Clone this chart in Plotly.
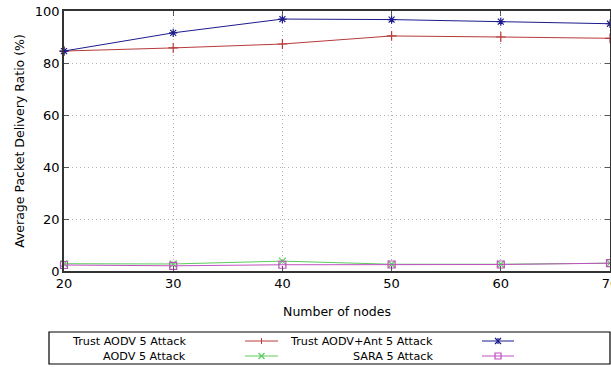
import plotly.graph_objects as go

nodes = [20, 30, 40, 50, 60, 70]
trust_aodv = [84.6, 85.8, 87.3, 90.4, 90.0, 89.5]
trust_aodv_ant = [84.6, 91.6, 96.9, 96.7, 95.9, 95.1]
aodv = [2.8, 2.7, 3.8, 2.6, 2.6, 3.0]
sara = [2.3, 2.0, 2.4, 2.5, 2.5, 3.0]

names = ["Trust AODV 5 Attack", "Trust AODV+Ant 5 Attack", "AODV 5 Attack", "SARA 5 Attack"]
colors = ["#b83a3a", "#1c1c8c", "#5ccc5c", "#c050c0"]
symbols = ["cross-thin-open", "asterisk-open", "x-thin-open", "square-open"]
series = [trust_aodv, trust_aodv_ant, aodv, sara]

W, H = 611, 367
L, R, T, B = 64, 610, 11, 271

fig = go.Figure()
for vals, c, s, n in zip(series, colors, symbols, names):
    fig.add_trace(go.Scatter(x=nodes, y=vals, mode="lines+markers", name=n,
                             line=dict(color=c, width=1),
                             marker=dict(symbol=s, size=7, color=c, line=dict(color=c, width=1.2)),
                             showlegend=False, cliponaxis=False))

def px(x):
    return (x - L) / (R - L)

def py(y):
    return (B - y) / (B - T)

shapes = []
annotations = []
# legend box
shapes.append(dict(type="rect", xref="paper", yref="paper", x0=px(49), x1=px(610), y0=py(364), y1=py(332),
                   line=dict(color="black", width=1.2), fillcolor="white", layer="above"))
pos = [(188, 341, 245, 278), (435, 341, 482, 514), (188, 356, 245, 278), (435, 356, 482, 514)]
for (tx, ty, lx0, lx1), c, s, n in zip(pos, colors, symbols, names):
    annotations.append(dict(x=px(tx), y=py(ty), xref="paper", yref="paper", text=n, showarrow=False,
                            xanchor="right", yanchor="middle", font=dict(size=11.2, color="black")))
    shapes.append(dict(type="line", xref="paper", yref="paper", x0=px(lx0), x1=px(lx1), y0=py(ty), y1=py(ty),
                       line=dict(color=c, width=1), layer="above"))
    cx = (lx0 + lx1) / 2
    r = 3
    if s.startswith("cross"):
        shapes.append(dict(type="line", xref="paper", yref="paper", x0=px(cx), x1=px(cx), y0=py(ty - r), y1=py(ty + r),
                           line=dict(color=c, width=1), layer="above"))
    elif s.startswith("x"):
        shapes.append(dict(type="line", xref="paper", yref="paper", x0=px(cx - r), x1=px(cx + r), y0=py(ty - r), y1=py(ty + r),
                           line=dict(color=c, width=1.2), layer="above"))
        shapes.append(dict(type="line", xref="paper", yref="paper", x0=px(cx - r), x1=px(cx + r), y0=py(ty + r), y1=py(ty - r),
                           line=dict(color=c, width=1.2), layer="above"))
    elif s.startswith("asterisk"):
        for a, b in [((-r, -r), (r, r)), ((-r, r), (r, -r)), ((0, -r), (0, r))]:
            shapes.append(dict(type="line", xref="paper", yref="paper", x0=px(cx + a[0]), x1=px(cx + b[0]),
                               y0=py(ty + a[1]), y1=py(ty + b[1]), line=dict(color=c, width=1.2), layer="above"))
    else:
        shapes.append(dict(type="rect", xref="paper", yref="paper", x0=px(cx - r), x1=px(cx + r), y0=py(ty + r), y1=py(ty - r),
                           line=dict(color=c, width=1.2), layer="above"))

axis_common = dict(showline=True, linecolor="#333333", linewidth=1.5, mirror="ticks", ticks="inside",
                   ticklen=5, tickcolor="#555555", showgrid=True, gridcolor="#b0b0b0", griddash="1px,3px",
                   gridwidth=1, zeroline=False, tickfont=dict(size=13, color="black"),
                   ticklabeloverflow="allow")

fig.update_layout(
    width=W, height=H,
    margin=dict(l=L, r=W - R, t=T, b=H - B, autoexpand=False),
    paper_bgcolor="white", plot_bgcolor="white",
    font=dict(family="DejaVu Sans", size=13, color="black"),
    xaxis=dict(range=[20, 70], tickvals=nodes,
               title=dict(text="Number of nodes", standoff=17, font=dict(size=12.5)), **axis_common),
    yaxis=dict(range=[0, 100], tickvals=[0, 20, 40, 60, 80, 100],
               title=dict(text="Average Packet Delivery Ratio (%)", standoff=7, font=dict(size=12.5)), **axis_common),
    shapes=shapes, annotations=annotations,
    showlegend=False,
)

fig.write_html("out.html")
